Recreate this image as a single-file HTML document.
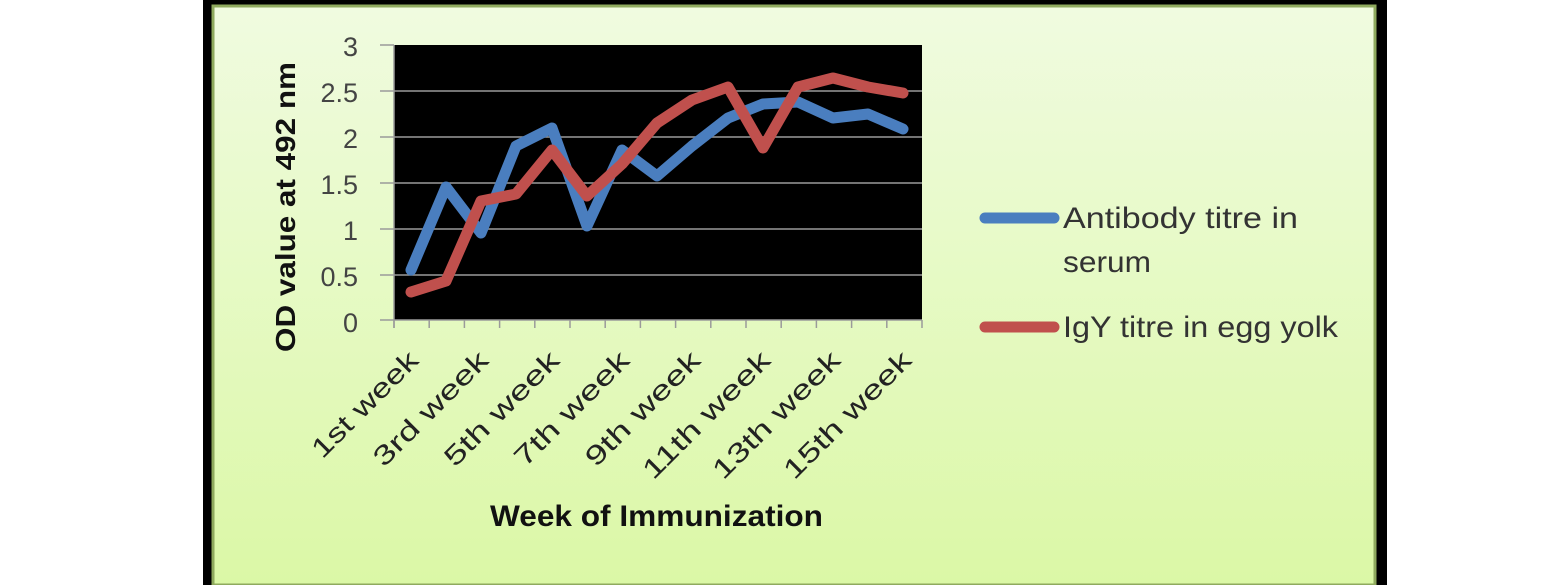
<!DOCTYPE html>
<html><head><meta charset="utf-8"><style>
html,body{margin:0;padding:0;background:#fff;}
body{width:1558px;height:585px;position:relative;overflow:hidden;font-family:"Liberation Sans",sans-serif;}
</style></head><body>
<svg width="1558" height="585" viewBox="0 0 1558 585" xmlns="http://www.w3.org/2000/svg" style="position:absolute;left:0;top:0">
<defs>
<linearGradient id="bg" x1="0" y1="0" x2="0" y2="1">
<stop offset="0" stop-color="#f0fbe0"/><stop offset="1" stop-color="#dbf8a6"/>
</linearGradient>
</defs>
<rect x="203" y="0" width="1184" height="585" fill="#000"/>
<rect x="213" y="6" width="1162" height="579" fill="url(#bg)" stroke="#8faa5e" stroke-width="3"/>
<rect x="394" y="45" width="528" height="275" fill="#000"/>
<g stroke="#9a9a9a" stroke-width="1.5">
<line x1="394" y1="91" x2="922" y2="91"/>
<line x1="394" y1="137" x2="922" y2="137"/>
<line x1="394" y1="183" x2="922" y2="183"/>
<line x1="394" y1="229" x2="922" y2="229"/>
<line x1="394" y1="275" x2="922" y2="275"/>
<line x1="380" y1="45" x2="394" y2="45"/>
<line x1="380" y1="91" x2="394" y2="91"/>
<line x1="380" y1="137" x2="394" y2="137"/>
<line x1="380" y1="183" x2="394" y2="183"/>
<line x1="380" y1="229" x2="394" y2="229"/>
<line x1="380" y1="275" x2="394" y2="275"/>
<line x1="380" y1="320" x2="922" y2="320"/>
<line x1="394" y1="45" x2="394" y2="328"/>
</g>
<g stroke="#9a9a9a" stroke-width="1.5" id="ticks"></g>
<g font-size="27" fill="#444" text-anchor="end">
<text x="358" y="56">3</text><text x="358" y="102">2.5</text><text x="358" y="148">2</text>
<text x="358" y="194">1.5</text><text x="358" y="240">1</text><text x="358" y="286">0.5</text><text x="358" y="332">0</text>
</g>
<text transform="translate(295,207) rotate(-90)" text-anchor="middle" font-size="28" font-weight="bold" fill="#111" textLength="290" lengthAdjust="spacingAndGlyphs">OD value at 492 nm</text>
<polyline fill="none" stroke="#4a7ebf" stroke-width="11" stroke-linejoin="round" stroke-linecap="round"
points="411,270 446,187 481,233 516,146 552,128 587,226 622,150 657,176 692,146 728,118 763,104 798,102 833,118 868,114 903,129"/>
<polyline fill="none" stroke="#c0504d" stroke-width="11" stroke-linejoin="round" stroke-linecap="round"
points="411,292 446,281 481,201 516,194 552,150 587,196 622,164 657,123 692,100 728,87 763,148 798,87 833,78 868,87 903,93"/>
<g font-size="27" fill="#222" text-anchor="end">
<text transform="translate(420,362) rotate(-45)" textLength="138" lengthAdjust="spacingAndGlyphs">1st week</text>
<text transform="translate(490,362) rotate(-45)" textLength="150" lengthAdjust="spacingAndGlyphs">3rd week</text>
<text transform="translate(561,362) rotate(-45)" textLength="150" lengthAdjust="spacingAndGlyphs">5th week</text>
<text transform="translate(631,362) rotate(-45)" textLength="150" lengthAdjust="spacingAndGlyphs">7th week</text>
<text transform="translate(702,362) rotate(-45)" textLength="150" lengthAdjust="spacingAndGlyphs">9th week</text>
<text transform="translate(772,362) rotate(-45)" textLength="168" lengthAdjust="spacingAndGlyphs">11th week</text>
<text transform="translate(842,362) rotate(-45)" textLength="168" lengthAdjust="spacingAndGlyphs">13th week</text>
<text transform="translate(913,362) rotate(-45)" textLength="168" lengthAdjust="spacingAndGlyphs">15th week</text>
</g>
<text x="490" y="526" font-size="30" font-weight="bold" fill="#111" textLength="333" lengthAdjust="spacingAndGlyphs">Week of Immunization</text>
<line x1="985" y1="218" x2="1054" y2="218" stroke="#4a7ebf" stroke-width="11" stroke-linecap="round"/>
<line x1="985" y1="327" x2="1054" y2="327" stroke="#c0504d" stroke-width="11" stroke-linecap="round"/>
<g font-size="30" fill="#333">
<text x="1063" y="228" textLength="235" lengthAdjust="spacingAndGlyphs">Antibody titre in</text>
<text x="1063" y="272" textLength="88" lengthAdjust="spacingAndGlyphs">serum</text>
<text x="1063" y="337" textLength="275" lengthAdjust="spacingAndGlyphs">IgY titre in egg yolk</text>
</g>
</svg>
<script>
var g=document.getElementById('ticks'),s='';
for(var i=0;i<=15;i++){var x=394+i*35.2;s+='<line x1="'+x+'" y1="320" x2="'+x+'" y2="328"/>';}
g.innerHTML=s;
</script>
</body></html>
